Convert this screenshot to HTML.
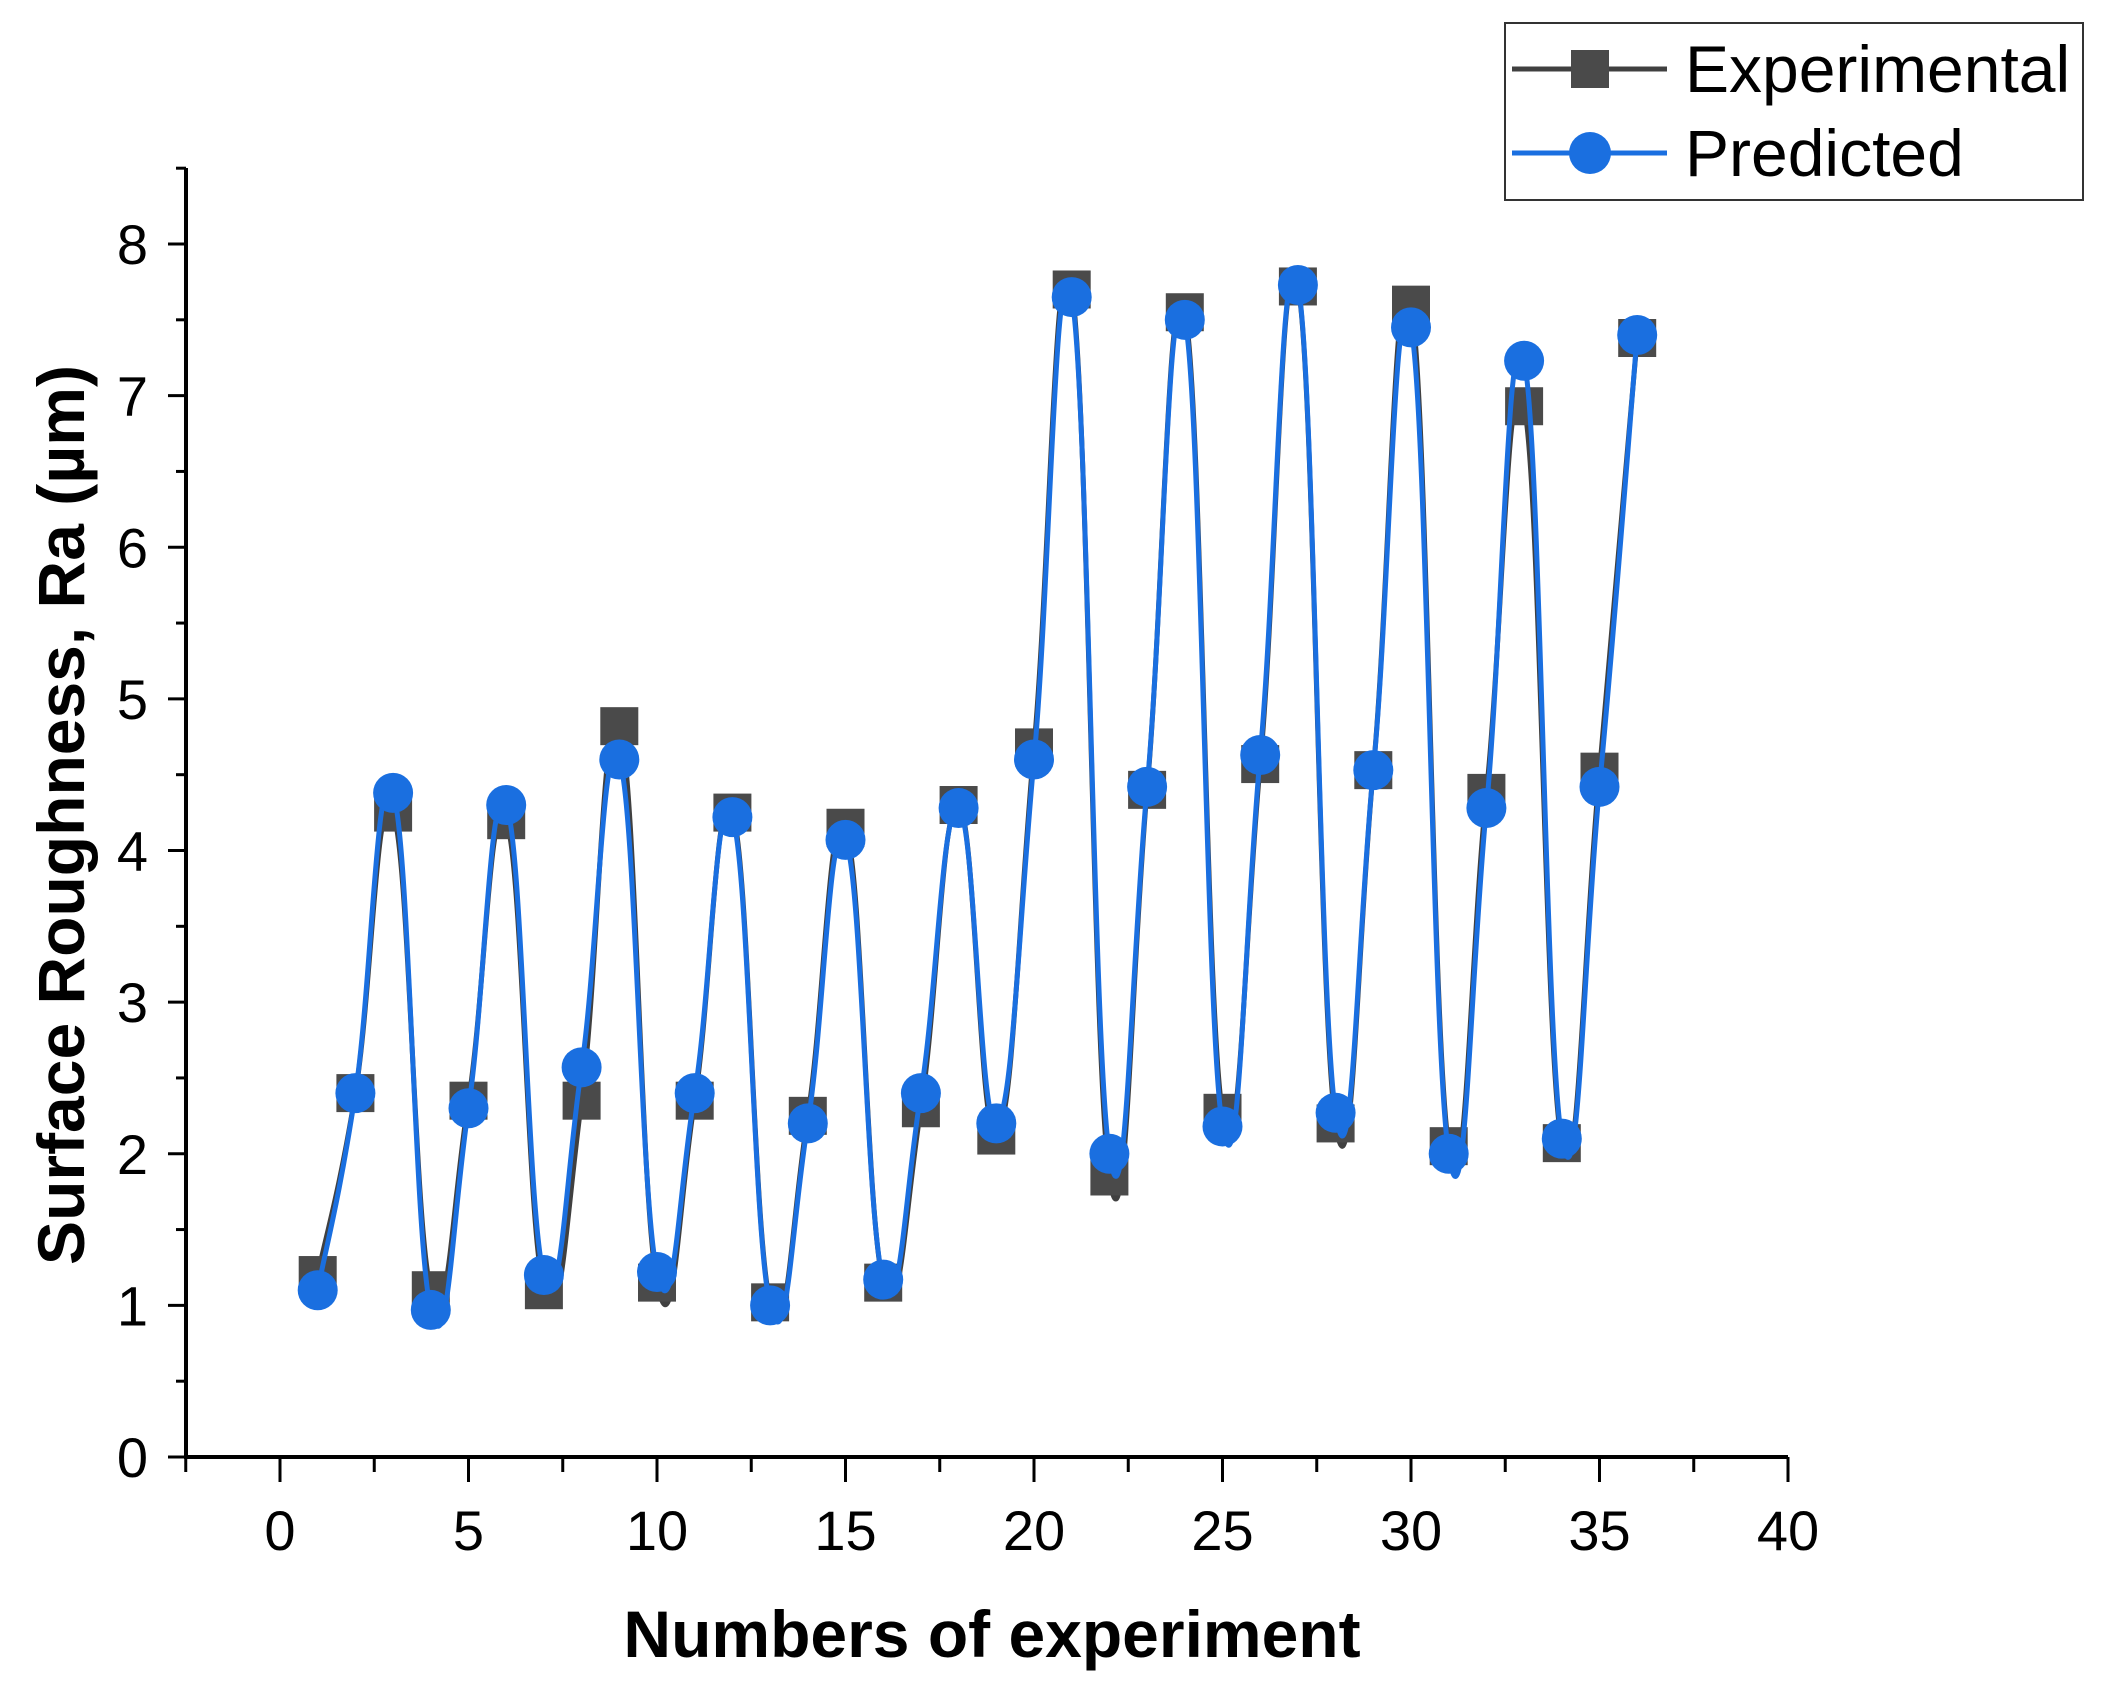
<!DOCTYPE html>
<html><head><meta charset="utf-8"><style>
html,body{margin:0;padding:0;background:#fff;}
svg{display:block;font-family:"Liberation Sans",Arial,sans-serif;}
</style></head><body>
<svg id="chart" width="2103" height="1682" viewBox="0 0 2103 1682">
<g id="axes"></g>
<g id="series"></g>
<g transform="translate(-8,0)">
<rect x="1513" y="23" width="578" height="177" fill="#fff" stroke="#333" stroke-width="2"/>
<g>
<line x1="1520" y1="69" x2="1675" y2="69" stroke="#404040" stroke-width="5"/>
<rect x="1579" y="50" width="38" height="38" fill="#4a4a4a"/>
<text x="1693" y="92" font-size="66" fill="#000">Experimental</text>
</g>
<g>
<line x1="1520" y1="153" x2="1675" y2="153" stroke="#1a6fe0" stroke-width="5"/>
<circle cx="1598" cy="153" r="21" fill="#1a6fe0"/>
<text x="1693" y="176" font-size="66" fill="#000">Predicted</text>
</g>
</g>
<text x="992" y="1657" font-size="66" font-weight="bold" text-anchor="middle">Numbers of experiment</text>
<text transform="translate(84,815) rotate(-90)" font-size="66" font-weight="bold" text-anchor="middle">Surface Roughness, Ra (µm)</text>
</svg>
<script>
const experiments = [1,2,3,4,5,6,7,8,9,10,11,12,13,14,15,16,17,18,19,20,21,22,23,24,25,26,27,28,29,30,31,32,33,34,35,36];
const experimental = [1.2,2.4,4.25,1.1,2.35,4.2,1.1,2.35,4.82,1.15,2.35,4.25,1.02,2.25,4.15,1.15,2.3,4.3,2.12,4.68,7.7,1.85,4.4,7.55,2.27,4.57,7.72,2.2,4.53,7.6,2.05,4.38,6.93,2.07,4.52,7.38];
const predicted = [1.1,2.4,4.38,0.97,2.3,4.3,1.2,2.57,4.6,1.22,2.4,4.22,1.0,2.2,4.07,1.17,2.4,4.28,2.2,4.6,7.65,2.0,4.42,7.5,2.18,4.63,7.73,2.27,4.53,7.45,2.0,4.28,7.23,2.1,4.42,7.4];
const xTicks = [0,5,10,15,20,25,30,35,40];
const yTicks = [0,1,2,3,4,5,6,7,8];

const NS="http://www.w3.org/2000/svg";
const X0=280,X1=1788,Y0=1457,Y8=244;
const sx=v=>X0+(X1-X0)*v/40;
const sy=v=>Y0-(Y0-Y8)*v/8;
function mk(tag,attrs,parent){const e=document.createElementNS(NS,tag);for(const k in attrs)e.setAttribute(k,attrs[k]);parent.appendChild(e);return e;}
const axes=document.getElementById('axes'), ser=document.getElementById('series');

let a=mk('line',{x1:186,y1:Y0,x2:X1,y2:Y0,stroke:'#000','stroke-width':4},axes);


a=mk('line',{x1:186,y1:168,x2:186,y2:Y0+2,stroke:'#000','stroke-width':4},axes);


for(let v=-2.5;v<=40.01;v+=2.5){
  const major=Math.abs(v%5)<1e-6;
  mk('line',{x1:sx(v),y1:Y0,x2:sx(v),y2:Y0+(major?25:15),stroke:'#000','stroke-width':3},axes);
}
xTicks.forEach(v=>{
  const t=mk('text',{x:sx(v),y:1550,'font-size':56,'text-anchor':'middle'},axes);
  t.textContent=v;
  
  
});
for(let v=0;v<=8.51;v+=0.5){
  const major=Math.abs(v%1)<1e-6;
  mk('line',{x1:186,y1:sy(v),x2:186-(major?18:10),y2:sy(v),stroke:'#000','stroke-width':3},axes);
}
yTicks.forEach(v=>{
  const t=mk('text',{x:148,y:sy(v)+20,'font-size':56,'text-anchor':'end'},axes);
  t.textContent=v;
  
  
});

function spline(xs,ys){
  const p=xs.map((x,i)=>[sx(x),sy(ys[i])]);
  let d='M'+p[0][0]+','+p[0][1];
  for(let i=0;i<p.length-1;i++){
    const p0=p[Math.max(0,i-1)],p1=p[i],p2=p[i+1],p3=p[Math.min(p.length-1,i+2)];
    const t=0.5/3*1.3;
    d+=` C${p1[0]+(p2[0]-p0[0])*t},${p1[1]+(p2[1]-p0[1])*t} ${p2[0]-(p3[0]-p1[0])*t},${p2[1]-(p3[1]-p1[1])*t} ${p2[0]},${p2[1]}`;
  }
  return d;
}
let l=mk('path',{d:spline(experiments,experimental),fill:'none',stroke:'#404040','stroke-width':5},ser);


experiments.forEach((x,i)=>{
  const r=mk('rect',{x:sx(x)-19,y:sy(experimental[i])-19,width:38,height:38,fill:'#4a4a4a'},ser);
  
  
});
l=mk('path',{d:spline(experiments,predicted),fill:'none',stroke:'#1a6fe0','stroke-width':5},ser);


experiments.forEach((x,i)=>{
  const c=mk('circle',{cx:sx(x),cy:sy(predicted[i]),r:20,fill:'#1a6fe0'},ser);
  
  
});
</script>
</body></html>
